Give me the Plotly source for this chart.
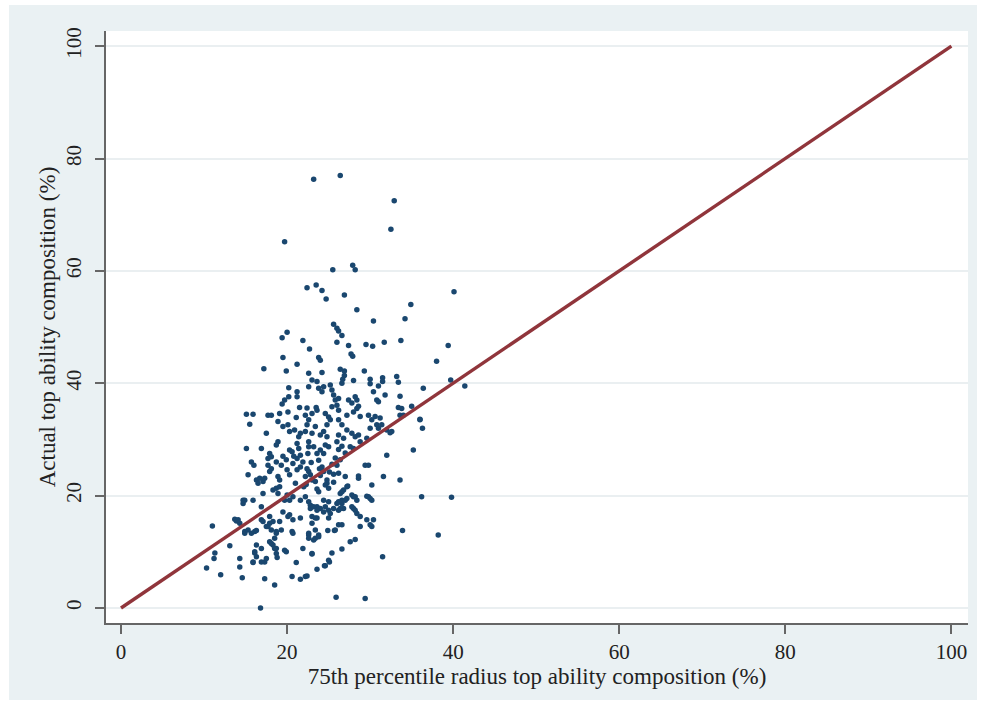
import plotly.graph_objects as go

# Scatter data (x: 75th percentile radius %, y: actual %)
x_top = [23.2, 26.4, 32.9, 32.5, 19.7, 25.5, 27.9, 28.2, 22.4, 23.5, 24.2, 24.7, 26.9, 34.9, 40.1, 28.4, 34.2]
y_top = [76.3, 77.0, 72.5, 67.4, 65.2, 60.2, 61.0, 60.2, 57.0, 57.5, 56.5, 55.0, 55.7, 54.0, 56.3, 53.1, 51.5]

x_mid = [30.4, 25.6, 26.0, 26.2, 26.6, 26.0, 27.4, 29.5, 30.3, 31.7, 33.7, 22.7, 23.8, 24.0, 27.7, 27.9, 29.3,
         26.4, 26.9, 26.9, 26.7, 26.6, 22.6, 23.0, 23.6, 24.2, 22.6, 23.8, 24.4, 24.2, 25.2, 25.4, 25.6, 25.8,
         26.2, 26.0, 25.4, 26.2, 30.0, 30.0, 31.5, 31.5, 33.2, 33.4, 36.4, 31.8, 30.8, 31.0, 28.2, 28.4, 27.8,
         28.4, 28.6, 27.4, 28.0, 31.0, 30.4, 33.6, 33.8, 33.6, 35.0, 36.0, 36.3, 29.8, 30.2, 31.2, 31.4, 31.0,
         32.0, 32.6, 24.6, 25.0, 25.2, 24.8, 24.4, 24.8, 24.0, 22.6, 23.0, 23.6, 23.4, 23.0, 22.6, 26.2, 26.6,
         27.2, 26.2, 26.0, 26.8, 27.8, 28.2, 28.6, 27.6, 28.0, 24.6, 25.0, 24.0, 23.6, 23.2, 24.4, 23.8, 26.2,
         26.6, 27.0, 25.8, 26.4, 35.2, 32.0, 28.0, 28.8, 27.2, 30.6, 22.4, 22.2, 23.5, 29.6, 28.8, 30.0, 30.8,
         32.4, 34.0, 22.2, 22.5, 22.6, 22.4, 33.4, 38.0, 39.4, 39.7, 41.4, 36.0]
y_mid = [51.1, 50.5, 49.8, 49.3, 48.5, 47.3, 46.7, 46.9, 46.6, 47.3, 47.6, 46.1, 44.6, 44.1, 45.2, 44.8, 42.2,
         42.5, 42.2, 41.4, 40.7, 40.0, 41.8, 40.6, 40.3, 41.9, 39.4, 39.1, 39.4, 38.5, 39.7, 38.8, 37.9, 37.0,
         37.3, 36.1, 35.8, 35.2, 40.7, 39.9, 41.0, 40.3, 41.2, 40.2, 39.1, 37.9, 37.0, 36.7, 37.6, 37.0, 36.5,
         35.5, 35.9, 37.0, 40.5, 39.5, 38.5, 37.7, 35.5, 34.3, 35.9, 33.6, 32.0, 34.3, 33.5, 33.8, 32.6, 32.0,
         31.7, 31.4, 34.6, 34.0, 33.5, 32.6, 31.4, 30.5, 30.8, 33.5, 34.6, 35.2, 32.3, 31.1, 29.6, 33.5, 32.6,
         31.7, 30.8, 29.6, 30.2, 31.1, 30.5, 30.8, 28.7, 28.4, 29.0, 28.7, 28.1, 27.5, 28.7, 27.5, 26.3, 28.2,
         28.8, 27.6, 26.7, 26.4, 28.1, 27.2, 34.9, 34.1, 34.3, 34.1, 35.6, 34.3, 35.7, 30.2, 29.6, 32.0, 32.6,
         31.2, 34.3, 31.4, 27.5, 28.7, 32.6, 35.7, 43.9, 46.7, 40.6, 39.5, 33.5]

x_left = [20.0, 19.4, 21.9, 19.5, 21.2, 17.2, 19.9, 20.2, 21.2, 21.2, 20.2, 19.7, 19.4, 21.5, 15.1, 15.9, 17.7,
          18.1, 19.1, 20.1, 21.1, 15.5, 17.5, 18.9, 19.5, 20.1, 20.3, 20.9, 21.6, 21.4, 15.1, 16.9, 17.9, 18.1,
          17.7, 18.9, 18.7, 20.3, 20.6, 21.2, 21.4, 21.6, 21.2, 15.7, 16.0, 18.7, 19.3, 20.7]
y_left = [49.1, 48.1, 47.6, 44.6, 43.4, 42.6, 42.2, 39.2, 38.5, 37.6, 37.6, 37.0, 36.3, 35.7, 34.5, 34.5, 34.3,
          34.3, 34.6, 34.9, 33.9, 32.7, 31.1, 33.2, 32.3, 32.6, 31.4, 31.7, 31.1, 30.5, 28.4, 28.4, 27.5, 26.9,
          26.6, 29.6, 29.0, 28.1, 27.8, 29.3, 28.4, 27.2, 26.6, 26.0, 25.4, 26.0, 25.4, 25.7]

x_low = [17.7, 18.1, 17.9, 15.3, 16.3, 16.7, 18.9, 19.1, 20.0, 20.3, 21.6, 21.2, 22.4, 22.6, 22.8, 22.2, 23.0,
         23.4, 24.2, 24.4, 24.8, 24.8, 26.0, 27.0, 27.2, 26.8, 26.4, 29.4, 28.6, 30.2, 31.6, 33.6, 36.2, 39.8,
         14.7, 15.9, 20.0, 20.7, 20.3, 21.6, 22.2, 24.4, 26.6, 27.2, 28.0, 28.4, 29.8, 30.2, 25.0, 23.8, 22.0,
         21.0, 25.6, 26.2]
y_low = [25.4, 24.8, 24.3, 23.7, 22.8, 23.1, 23.4, 22.8, 24.6, 23.7, 25.1, 24.6, 24.8, 24.3, 23.7, 23.4, 22.8,
         22.5, 25.1, 24.3, 22.8, 22.2, 25.4, 23.4, 21.6, 21.0, 20.4, 25.4, 23.1, 21.9, 23.4, 22.8, 19.8, 19.7,
         19.2, 19.2, 20.1, 19.8, 19.2, 19.2, 19.8, 19.2, 19.2, 19.5, 19.8, 19.2, 19.8, 19.2, 21.3, 20.7, 21.6,
         22.2, 23.8, 24.0]

x_bottom = [22.6, 22.8, 16.9, 23.6, 24.6, 26.0, 11.0, 13.1, 11.3, 11.2, 10.3, 12.0, 14.3, 14.3, 14.6, 13.9,
            14.3, 14.9, 15.7, 16.1, 16.3, 16.1, 16.9, 15.9, 17.3, 17.5, 17.3, 18.5, 16.8, 17.9, 18.3, 18.7,
            18.8, 19.9, 21.1, 20.6, 21.6, 22.2, 21.9, 23.0, 23.6, 24.5, 25.1, 25.4, 26.6, 27.6, 28.2, 31.5,
            25.9, 29.4, 33.9, 38.2, 16.9, 17.9, 17.7, 18.1, 18.7, 19.1, 19.5, 20.1, 20.3, 20.7, 21.6, 20.6,
            20.7, 22.6, 23.4, 23.4, 23.8, 23.0, 23.6, 24.0, 24.4, 25.0, 24.9, 25.7, 26.2, 26.6, 25.0, 25.6,
            26.6, 26.8, 28.0, 28.8, 28.8, 29.6, 30.0, 30.4]
y_bottom = [18.9, 18.3, 18.0, 18.0, 18.0, 18.6, 14.6, 11.1, 9.8, 8.8, 7.1, 5.9, 8.8, 7.3, 5.4, 15.5,
            15.1, 13.3, 13.3, 13.6, 11.2, 9.8, 10.6, 8.1, 8.2, 8.8, 5.2, 4.1, 0.0, 11.8, 11.2, 10.6,
            9.0, 10.0, 8.1, 5.6, 5.1, 5.6, 10.6, 9.6, 6.9, 7.5, 8.2, 9.8, 10.5, 11.8, 12.2, 9.1,
            1.9, 1.7, 13.8, 13.0, 15.7, 16.3, 14.5, 13.9, 13.3, 15.4, 17.1, 16.3, 16.6, 15.7, 16.0, 13.6,
            13.3, 13.0, 12.4, 13.9, 13.0, 16.3, 16.0, 17.7, 17.1, 16.0, 13.8, 13.8, 14.8, 14.8, 18.9, 17.7,
            18.6, 17.7, 17.7, 16.3, 14.5, 15.7, 14.8, 15.7]

x_extra = [16.5, 17.1, 17.3, 14.9, 14.7, 17.1, 18.3, 18.7, 19.1, 18.9, 19.7, 13.7, 14.1, 14.9, 15.3, 16.3,
           17.1, 17.5, 17.9, 18.3, 18.7, 19.3, 18.5, 18.1, 16.1, 16.3, 15.9, 16.9, 18.5, 18.7, 19.7,
           29.8, 28.6, 27.3, 26.6, 27.8, 28.2, 29.6, 30.0, 26.2, 27.0, 25.0, 25.2, 26.2, 26.4, 27.8, 28.2,
           28.4, 30.2, 22.8, 23.2, 23.6, 23.4, 23.0, 22.6, 22.6, 23.2, 23.8, 25.8, 25.0, 24.6, 22.4, 23.0,
           19.5, 19.9, 20.8, 21.9, 22.9, 23.9, 25.1, 25.4, 24.0, 23.6, 24.6, 25.6, 22.3]
y_extra = [22.2, 22.5, 23.1, 19.2, 18.6, 20.4, 21.0, 21.3, 21.6, 20.4, 19.2, 15.8, 15.7, 13.6, 13.9, 13.8,
           15.4, 14.5, 15.1, 15.4, 13.6, 13.9, 12.4, 11.5, 10.0, 9.1, 8.2, 8.2, 10.6, 9.7, 10.3,
           25.4, 23.5, 21.7, 20.7, 20.1, 19.8, 19.9, 19.5, 18.9, 19.2, 17.4, 16.8, 17.4, 17.7, 18.0, 17.4,
           16.8, 14.5, 17.7, 18.0, 17.4, 16.0, 15.1, 13.3, 12.4, 12.1, 12.7, 13.9, 8.5, 7.5, 5.7, 9.7,
           27.0, 26.4, 27.0, 26.0, 25.9, 24.8, 24.2, 25.6, 23.6, 21.2, 21.9, 22.4, 22.0]

line_x = [0, 100]
line_y = [0, 100]
tick_vals = [0, 20, 40, 60, 80, 100]

x_all = x_top + x_mid + x_left + x_low + x_bottom + x_extra
y_all = y_top + y_mid + y_left + y_low + y_bottom + y_extra

NAVY = "rgb(26,71,111)"
MAROON = "rgb(144,53,59)"
BG = "rgb(234,241,243)"
FONT = "Liberation Serif"

fig = go.Figure()
fig.add_trace(go.Scatter(x=x_all, y=y_all, mode="markers",
                         marker=dict(color=NAVY, size=5.5, line=dict(width=0)),
                         showlegend=False, hoverinfo="skip"))
fig.add_trace(go.Scatter(x=line_x, y=line_y, mode="lines",
                         line=dict(color=MAROON, width=3.4),
                         showlegend=False, hoverinfo="skip"))

fig.add_shape(type="rect", xref="paper", yref="paper",
              x0=-0.1125, x1=1.0104, y0=-0.130, y1=1.0439,
              fillcolor=BG, line=dict(width=0), layer="below")
fig.add_shape(type="rect", xref="paper", yref="paper",
              x0=0, x1=1, y0=0, y1=1,
              fillcolor="white", line=dict(width=0), layer="below")

fig.update_layout(
    width=984, height=716,
    margin=dict(l=106, r=16, t=31, b=93),
    paper_bgcolor="white", plot_bgcolor="white",
    font=dict(family=FONT, color="#222", size=21),
    xaxis=dict(range=[-1.81, 102.0], tickvals=tick_vals, showgrid=False, zeroline=False,
               showline=True, linecolor="#666", linewidth=1.5, ticks="outside", ticklen=9,
               tickcolor="#666", tickwidth=1.5,
               tickfont=dict(family=FONT, size=21, color="#222"),
               title=dict(text="75th percentile radius top ability composition (%)",
                          font=dict(family=FONT, size=23, color="#222"), standoff=5)),
    yaxis=dict(range=[-2.67, 102.7], tickvals=tick_vals, showgrid=True, gridcolor="#eaeff1",
               gridwidth=1.5, zeroline=False,
               showline=True, linecolor="#666", linewidth=1.5, ticks="outside", ticklen=9,
               tickcolor="#666", tickwidth=1.5, tickangle=-90, ticklabelstandoff=6,
               tickfont=dict(family=FONT, size=21, color="#222"),
               title=dict(text="Actual top ability composition (%)",
                          font=dict(family=FONT, size=23, color="#222"), standoff=0)),
)

fig.write_html("out.html")
